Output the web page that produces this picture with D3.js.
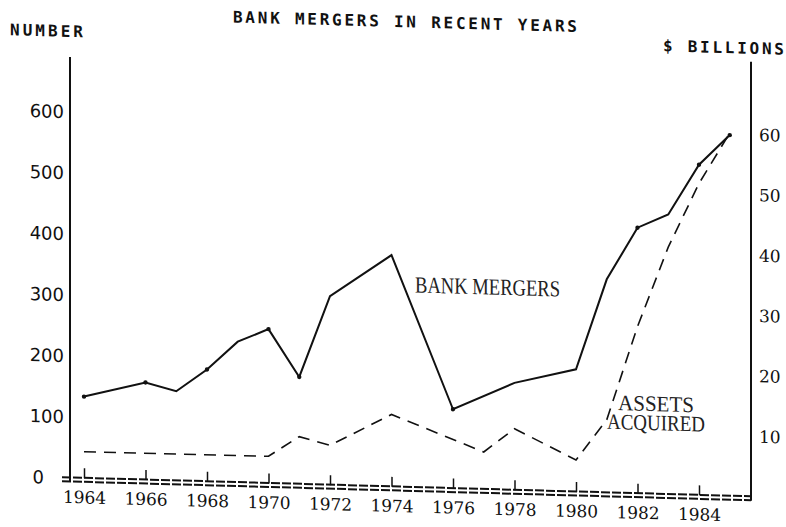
<!DOCTYPE html>
<html><head><meta charset="utf-8">
<script src="https://cdn.jsdelivr.net/npm/d3@7"></script>
<style>
html,body{margin:0;padding:0;background:#fff;}
svg{display:block;}
</style></head><body>
<svg id="chart" width="786" height="527"></svg>
<script>
// ---- data ----
const mergerYears  = [1964,1966,1967,1968,1969,1970,1971,1972,1974,1976,1978,1980,1981,1982,1983,1984,1985];
const mergerValues = [134, 160, 147, 184, 231, 253, 176, 310, 380, 130, 176, 201, 350, 436, 459, 542, 592];
const assetYears   = [1964,1970,1971,1972,1974,1977,1978,1980,1981,1982,1983,1984,1985];
const assetValues  = [4.4, 4.5, 7.9, 6.6, 12.0, 6.2, 10.2, 5.3, 12.1, 27.7, 41.0, 51.7, 60.2];
const mergerMarkYears = [1964,1966,1968,1970,1971,1976,1982,1984,1985];
const yearTicks    = [1964,1966,1968,1970,1972,1974,1976,1978,1980,1982,1984];
const numberTicks  = [0,100,200,300,400,500,600];
const billionTicks = [10,20,30,40,50,60];
const titleText = "BANK MERGERS IN RECENT YEARS";
const leftTitle = "NUMBER";
const rightTitle = "$ BILLIONS";
const mergerLabel = "BANK MERGERS";
const assetLabel = ["ASSETS","ACQUIRED"];

const svg = d3.select("#chart");
svg.append("rect").attr("width",786).attr("height",527).attr("fill","#fff");
// the scanned original slopes slightly downward to the right
const g = svg.append("g").attr("transform","skewY(1.587)");

const x  = d3.scaleLinear().domain([1964,1984]).range([84,699]);
const yL = d3.scaleLinear().domain([0,600]).range([476,110]);
const yR = d3.scaleLinear().domain([0,60]).range([476,114]);

const ink = "#111";

// titles
const headFont = "'DejaVu Sans Mono', monospace";
g.append("text").text(titleText).attr("x",405).attr("y",16)
  .attr("text-anchor","middle").attr("textLength",344).attr("lengthAdjust","spacing")
  .style("font-family",headFont).style("font-size","16px").style("font-weight","bold").attr("fill",ink);
g.append("text").text(leftTitle).attr("x",10).attr("y",35)
  .attr("textLength",73).attr("lengthAdjust","spacing")
  .style("font-family",headFont).style("font-size","16px").style("font-weight","bold").attr("fill",ink);
g.append("text").text(rightTitle).attr("x",663).attr("y",33)
  .attr("textLength",121).attr("lengthAdjust","spacing")
  .style("font-family",headFont).style("font-size","16px").style("font-weight","bold").attr("fill",ink);

// axis lines
g.append("line").attr("x1",70).attr("x2",70).attr("y1",55).attr("y2",479)
  .attr("stroke",ink).attr("stroke-width",2);
g.append("line").attr("x1",751).attr("x2",751).attr("y1",41).attr("y2",480)
  .attr("stroke",ink).attr("stroke-width",2);
// double dashed baseline
[475.5,479.5].forEach(yy=>{
  g.append("line").attr("x1",62).attr("x2",751).attr("y1",yy).attr("y2",yy)
    .attr("stroke",ink).attr("stroke-width",2).attr("stroke-dasharray","9,2");
});

// left axis
const axL = g.append("g").attr("transform","translate(70,0)")
  .call(d3.axisLeft(yL).tickValues(numberTicks).tickSize(0).tickPadding(6));
axL.select(".domain").remove();
axL.selectAll("text").style("font-family","'DejaVu Sans', sans-serif").style("font-size","18px").attr("fill",ink);
axL.selectAll(".tick").filter(d=>d===0).select("text").attr("x",-26);

// right axis
const axR = g.append("g").attr("transform","translate(751,0)")
  .call(d3.axisRight(yR).tickValues(billionTicks).tickSize(0).tickPadding(8));
axR.select(".domain").remove();
axR.selectAll("text").style("font-family","'DejaVu Serif', serif").style("font-size","17px").attr("fill",ink);

// bottom axis
const axB = g.append("g").attr("transform","translate(0,476)")
  .call(d3.axisBottom(x).tickValues(yearTicks).tickFormat(d3.format("d"))
    .tickSizeInner(-10).tickSizeOuter(0).tickPadding(13));
axB.select(".domain").remove();
axB.selectAll("line").attr("stroke",ink).attr("stroke-width",1.5);
axB.selectAll("text").style("font-family","'DejaVu Serif', serif").style("font-size","17px").attr("fill",ink);

// series
const mergers = mergerYears.map((yr,i)=>({year:yr,v:mergerValues[i]}));
const assets  = assetYears.map((yr,i)=>({year:yr,v:assetValues[i]}));

g.append("path").datum(assets)
  .attr("d",d3.line().x(d=>x(d.year)).y(d=>yR(d.v)))
  .attr("fill","none").attr("stroke",ink).attr("stroke-width",1.6)
  .attr("stroke-dasharray","12,8");

g.append("path").datum(mergers)
  .attr("d",d3.line().x(d=>x(d.year)).y(d=>yL(d.v)))
  .attr("fill","none").attr("stroke",ink).attr("stroke-width",2);

g.selectAll("circle.mk").data(mergers.filter(d=>mergerMarkYears.includes(d.year)))
  .join("circle").attr("class","mk")
  .attr("cx",d=>x(d.year)).attr("cy",d=>yL(d.v)).attr("r",2.2).attr("fill",ink);

// in-chart labels (typewriter serif)
const typeFont = "'Liberation Serif', 'Times New Roman', serif";
g.append("text").text(mergerLabel).attr("x",415).attr("y",281)
  .attr("textLength",145).attr("lengthAdjust","spacingAndGlyphs")
  .style("font-family",typeFont).style("font-size","23px").attr("fill","#222");
g.append("text").text(assetLabel[0]).attr("x",618).attr("y",393)
  .attr("textLength",76).attr("lengthAdjust","spacingAndGlyphs")
  .style("font-family",typeFont).style("font-size","22px").attr("fill","#222");
g.append("text").text(assetLabel[1]).attr("x",607).attr("y",412)
  .attr("textLength",98).attr("lengthAdjust","spacingAndGlyphs")
  .style("font-family",typeFont).style("font-size","22px").attr("fill","#222");
</script>
</body></html>
